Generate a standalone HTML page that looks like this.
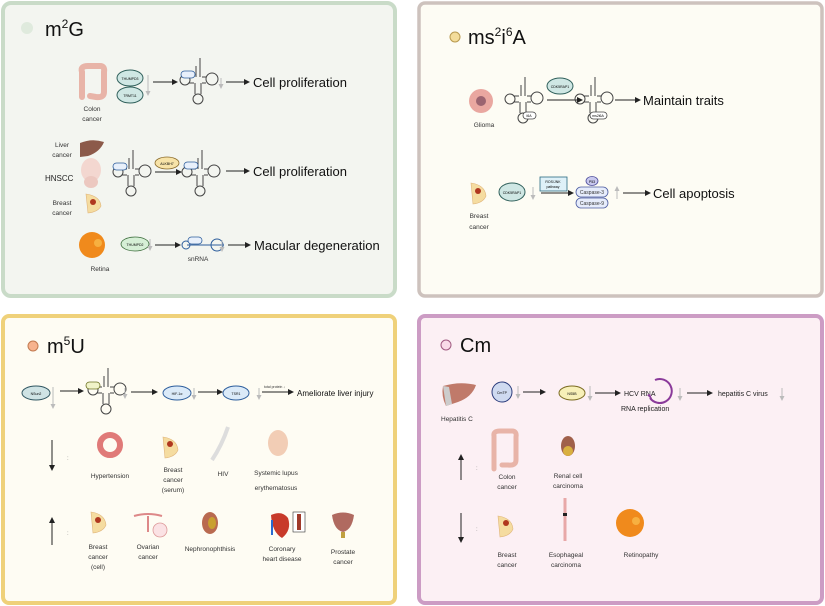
<!DOCTYPE html>
<html><head><meta charset="utf-8"><style>
html,body{margin:0;padding:0;background:#fff;}
svg{display:block;font-family:"Liberation Sans",sans-serif;}
</style></head><body>
<svg width="825" height="606" viewBox="0 0 825 606" xmlns="http://www.w3.org/2000/svg">
<defs>
<marker id="ah" markerWidth="6" markerHeight="6" refX="5" refY="3" orient="auto"><path d="M0,0 L6,3 L0,6 z" fill="#222"/></marker>
<marker id="ahg" markerWidth="5" markerHeight="5" refX="4" refY="2.5" orient="auto"><path d="M0,0 L5,2.5 L0,5 z" fill="#bbb"/></marker>
<g id="trna" fill="none" stroke="#444" stroke-width="1">
<line x1="2" y1="-22" x2="2" y2="-3"/><line x1="-2" y1="-14" x2="-2" y2="-3"/>
<path d="M-4,-3 L-9,-3 M-4,3 L-9,3"/>
<circle cx="-13" cy="0" r="5"/><circle cx="14" cy="-1" r="6"/>
<path d="M4,-3 L8,-3 M4,3 L8,3"/>
<path d="M-3,3 L-3,14 M3,3 L3,14"/><circle cx="0" cy="19" r="5"/>
</g>
</defs>

<!-- panels -->
<rect x="3" y="3" width="392" height="293" rx="8" fill="#f3f5f0" stroke="#c9dbc8" stroke-width="4"/>
<rect x="419" y="3" width="403" height="293" rx="6" fill="#fdfcf4" stroke="#cdc2bd" stroke-width="3.5"/>
<rect x="3" y="316" width="392" height="287" rx="6" fill="#fefcf3" stroke="#efd17a" stroke-width="4"/>
<rect x="419" y="316" width="403" height="287" rx="6" fill="#fcf0f4" stroke="#cc9cc4" stroke-width="4"/>

<!-- ===== Panel 1 m2G ===== -->
<circle cx="27" cy="28" r="6" fill="#dfeadd"/>
<text x="45" y="36" font-size="20" fill="#111">m<tspan font-size="12" dy="-8">2</tspan><tspan dy="8">G</tspan></text>
<!-- colon -->
<path d="M82,97 L82,72 Q80,66 88,66 L100,66 Q105,66 104,72 L104,92 Q104,98 96,97 L90,96" fill="none" stroke="#e8b4a8" stroke-width="6" stroke-linecap="round"/>
<text x="92" y="111" font-size="6.5" text-anchor="middle" fill="#333">Colon</text>
<text x="92" y="121" font-size="6.5" text-anchor="middle" fill="#333">cancer</text>
<ellipse cx="130" cy="78" rx="13" ry="8" fill="#cfe7e4" stroke="#2f5f5a" stroke-width="1"/>
<text x="130" y="80" font-size="3.5" text-anchor="middle">THUMPD3</text>
<ellipse cx="130" cy="95" rx="13" ry="8" fill="#cfe7e4" stroke="#2f5f5a" stroke-width="1"/>
<text x="130" y="97" font-size="3.5" text-anchor="middle">TRMT11</text>
<line x1="148" y1="75" x2="148" y2="95" stroke="#bbb" marker-end="url(#ahg)"/>
<line x1="153" y1="82" x2="177" y2="82" stroke="#222" marker-end="url(#ah)"/>
<use href="#trna" x="198" y="80"/>
<rect x="181" y="71" width="14" height="7" rx="3.5" fill="#e8f0fb" stroke="#2c5d9c" stroke-width="0.8"/>
<line x1="221" y1="78" x2="221" y2="88" stroke="#bbb" marker-end="url(#ahg)"/>
<line x1="226" y1="82" x2="249" y2="82" stroke="#222" marker-end="url(#ah)"/>
<text x="253" y="87" font-size="13" fill="#111">Cell proliferation</text>
<!-- row2 -->
<text x="62" y="147" font-size="6.5" text-anchor="middle" fill="#333">Liver</text>
<text x="62" y="157" font-size="6.5" text-anchor="middle" fill="#333">cancer</text>
<path d="M80,143 Q92,138 104,142 Q100,152 88,156 L80,157 z" fill="#8c5a4a"/>
<text x="45" y="181" font-size="8" fill="#222">HNSCC</text>
<ellipse cx="91" cy="170" rx="10" ry="12" fill="#f3d7d0"/>
<ellipse cx="91" cy="182" rx="7" ry="6" fill="#ecc8c0"/>
<text x="62" y="205" font-size="6.5" text-anchor="middle" fill="#333">Breast</text>
<text x="62" y="215" font-size="6.5" text-anchor="middle" fill="#333">cancer</text>
<path d="M86,194 Q100,196 101,206 Q98,212 88,213 z" fill="#f5dca0" stroke="#e0b57a" stroke-width="0.6"/>
<circle cx="93" cy="202" r="3" fill="#b0371f"/>
<use href="#trna" x="131" y="172"/>
<rect x="113" y="163" width="14" height="7" rx="3.5" fill="#e8f0fb" stroke="#2c5d9c" stroke-width="0.8"/>
<ellipse cx="167" cy="163" rx="12" ry="6" fill="#f7e3a8" stroke="#8a6a2a" stroke-width="0.8"/>
<text x="167" y="165" font-size="3.5" text-anchor="middle">ALKBH7</text>
<line x1="155" y1="172" x2="181" y2="172" stroke="#222" marker-end="url(#ah)"/>
<use href="#trna" x="200" y="172"/>
<rect x="184" y="162" width="14" height="7" rx="3.5" fill="#e8f0fb" stroke="#2c5d9c" stroke-width="0.8"/>
<line x1="226" y1="171" x2="249" y2="171" stroke="#222" marker-end="url(#ah)"/>
<text x="253" y="176" font-size="13" fill="#111">Cell proliferation</text>
<!-- row3 -->
<circle cx="92" cy="245" r="13" fill="#f08a1c"/>
<circle cx="98" cy="243" r="4" fill="#f7b040"/>
<text x="100" y="271" font-size="6.5" text-anchor="middle" fill="#333">Retina</text>
<ellipse cx="135" cy="244" rx="14" ry="7" fill="#d6efd6" stroke="#3a6b3a" stroke-width="0.8"/>
<text x="135" y="246" font-size="3.5" text-anchor="middle">THUMPD2</text>
<line x1="150" y1="239" x2="150" y2="250" stroke="#bbb" marker-end="url(#ahg)"/>
<line x1="155" y1="245" x2="180" y2="245" stroke="#222" marker-end="url(#ah)"/>
<path d="M187,245 L224,245" stroke="#2c5d9c" stroke-width="1"/>
<circle cx="186" cy="245" r="4" fill="none" stroke="#2c5d9c"/>
<circle cx="217" cy="245" r="6" fill="none" stroke="#2c5d9c"/>
<rect x="188" y="237" width="14" height="7" rx="3.5" fill="#e8f0fb" stroke="#2c5d9c" stroke-width="0.8"/>
<text x="198" y="261" font-size="6.5" text-anchor="middle" fill="#333">snRNA</text>
<line x1="222" y1="240" x2="222" y2="251" stroke="#bbb" marker-end="url(#ahg)"/>
<line x1="228" y1="245" x2="250" y2="245" stroke="#222" marker-end="url(#ah)"/>
<text x="254" y="250" font-size="13" fill="#111">Macular degeneration</text>

<!-- ===== Panel 2 ms2i6A ===== -->
<circle cx="455" cy="37" r="5" fill="#f3dc9a" stroke="#b89a50" stroke-width="1"/>
<text x="468" y="44" font-size="20" fill="#111">ms<tspan font-size="12" dy="-8">2</tspan><tspan dy="8">i</tspan><tspan font-size="12" dy="-8">6</tspan><tspan dy="8">A</tspan></text>
<circle cx="481" cy="101" r="12" fill="#e9a7a0"/>
<circle cx="481" cy="101" r="5" fill="#9b6470"/>
<text x="484" y="127" font-size="6.5" text-anchor="middle" fill="#333">Glioma</text>
<use href="#trna" x="523" y="99"/>
<rect x="523" y="112" width="13" height="7" rx="3.5" fill="#fff" stroke="#444" stroke-width="0.8"/>
<text x="529" y="117" font-size="3.5" text-anchor="middle">i6A</text>
<ellipse cx="560" cy="86" rx="13" ry="8" fill="#cfe7e4" stroke="#2f5f5a" stroke-width="1"/>
<text x="560" y="88" font-size="3.5" text-anchor="middle">CDK5RAP1</text>
<line x1="547" y1="100" x2="582" y2="100" stroke="#222" marker-end="url(#ah)"/>
<use href="#trna" x="593" y="99"/>
<rect x="590" y="112" width="17" height="7" rx="3.5" fill="#fff" stroke="#444" stroke-width="0.8"/>
<text x="598" y="117" font-size="3.5" text-anchor="middle">ms2i6A</text>
<line x1="615" y1="100" x2="640" y2="100" stroke="#222" marker-end="url(#ah)"/>
<text x="643" y="105" font-size="13" fill="#111">Maintain traits</text>
<path d="M471,183 Q485,185 486,196 Q483,203 473,204 z" fill="#f5dca0" stroke="#e0b57a" stroke-width="0.6"/>
<circle cx="478" cy="191" r="3" fill="#b0371f"/>
<text x="479" y="218" font-size="6.5" text-anchor="middle" fill="#333">Breast</text>
<text x="479" y="229" font-size="6.5" text-anchor="middle" fill="#333">cancer</text>
<ellipse cx="512" cy="192" rx="13" ry="9" fill="#cfe7e4" stroke="#2f5f5a" stroke-width="1"/>
<text x="512" y="194" font-size="3.5" text-anchor="middle">CDK5RAP1</text>
<line x1="533" y1="187" x2="533" y2="199" stroke="#bbb" marker-end="url(#ahg)"/>
<rect x="540" y="177" width="27" height="14" fill="#dff1f8" stroke="#2a6a80" stroke-width="0.8"/>
<text x="553" y="183" font-size="3.5" text-anchor="middle">ROS/JNK</text>
<text x="553" y="188" font-size="3.5" text-anchor="middle">pathway</text>
<line x1="541" y1="193" x2="573" y2="193" stroke="#222" marker-end="url(#ah)"/>
<ellipse cx="592" cy="181" rx="6" ry="4.5" fill="#c8c8ee" stroke="#4a4a9a" stroke-width="0.8"/>
<text x="592" y="183" font-size="3.5" text-anchor="middle">P53</text>
<rect x="576" y="187" width="32" height="10" rx="5" fill="#e6ecfb" stroke="#4a5aa0" stroke-width="0.8"/>
<text x="592" y="194" font-size="5" text-anchor="middle" fill="#333">Caspase-3</text>
<rect x="576" y="198" width="32" height="10" rx="5" fill="#e6ecfb" stroke="#4a5aa0" stroke-width="0.8"/>
<text x="592" y="205" font-size="5" text-anchor="middle" fill="#333">Caspase-9</text>
<line x1="617" y1="199" x2="617" y2="187" stroke="#bbb" marker-end="url(#ahg)"/>
<line x1="623" y1="193" x2="650" y2="193" stroke="#222" marker-end="url(#ah)"/>
<text x="653" y="198" font-size="13" fill="#111">Cell apoptosis</text>

<!-- ===== Panel 3 m5U ===== -->
<circle cx="33" cy="346" r="5" fill="#f7b38e" stroke="#c27a50" stroke-width="1"/>
<text x="47" y="353" font-size="20" fill="#111">m<tspan font-size="12" dy="-8">5</tspan><tspan dy="8">U</tspan></text>
<ellipse cx="36" cy="393" rx="14" ry="7" fill="#cfe3e4" stroke="#2f5560" stroke-width="1"/>
<text x="36" y="395" font-size="3.5" text-anchor="middle">NSun2</text>
<line x1="53" y1="387" x2="53" y2="408" stroke="#bbb" marker-end="url(#ahg)"/>
<line x1="60" y1="391" x2="83" y2="391" stroke="#222" marker-end="url(#ah)"/>
<use href="#trna" x="106" y="390"/>
<rect x="86" y="382" width="14" height="7" rx="3.5" fill="#f0f3c8" stroke="#6a7020" stroke-width="0.8"/>
<line x1="125" y1="388" x2="125" y2="398" stroke="#bbb" marker-end="url(#ahg)"/>
<line x1="131" y1="392" x2="157" y2="392" stroke="#222" marker-end="url(#ah)"/>
<ellipse cx="177" cy="393" rx="14" ry="7" fill="#dbeaf8" stroke="#2c5d9c" stroke-width="1"/>
<text x="177" y="395" font-size="3.5" text-anchor="middle">HIF-1α</text>
<line x1="194" y1="388" x2="194" y2="399" stroke="#bbb" marker-end="url(#ahg)"/>
<line x1="198" y1="392" x2="222" y2="392" stroke="#222" marker-end="url(#ah)"/>
<ellipse cx="236" cy="393" rx="13" ry="7" fill="#dbeaf8" stroke="#2c5d9c" stroke-width="1"/>
<text x="236" y="395" font-size="3.5" text-anchor="middle">TSR1</text>
<line x1="259" y1="388" x2="259" y2="399" stroke="#bbb" marker-end="url(#ahg)"/>
<text x="264" y="388" font-size="3.5" fill="#333">total protein ↓</text>
<line x1="262" y1="392" x2="293" y2="392" stroke="#222" marker-end="url(#ah)"/>
<text x="297" y="396" font-size="8" fill="#111">Ameliorate liver injury</text>
<line x1="52" y1="440" x2="52" y2="470" stroke="#222" marker-end="url(#ah)"/>
<text x="67" y="460" font-size="6" fill="#888">:</text>
<circle cx="110" cy="445" r="10" fill="none" stroke="#e07a78" stroke-width="6"/>
<text x="110" y="478" font-size="6.5" text-anchor="middle" fill="#333">Hypertension</text>
<path d="M163,437 Q177,439 178,450 Q175,457 165,458 z" fill="#f5dca0" stroke="#e0b57a" stroke-width="0.6"/>
<circle cx="170" cy="444" r="3" fill="#b0371f"/>
<text x="173" y="472" font-size="6.5" text-anchor="middle" fill="#333">Breast</text>
<text x="173" y="482" font-size="6.5" text-anchor="middle" fill="#333">cancer</text>
<text x="173" y="492" font-size="6.5" text-anchor="middle" fill="#333">(serum)</text>
<path d="M228,427 Q222,445 212,460" fill="none" stroke="#ddd" stroke-width="4"/>
<text x="223" y="476" font-size="6.5" text-anchor="middle" fill="#333">HIV</text>
<ellipse cx="278" cy="443" rx="10" ry="13" fill="#f2cdb5"/>
<text x="276" y="475" font-size="6.5" text-anchor="middle" fill="#333">Systemic lupus</text>
<text x="276" y="490" font-size="6.5" text-anchor="middle" fill="#333">erythematosus</text>
<line x1="52" y1="545" x2="52" y2="518" stroke="#222" marker-end="url(#ah)"/>
<text x="67" y="535" font-size="6" fill="#888">:</text>
<path d="M91,512 Q105,514 106,525 Q103,532 93,533 z" fill="#f5dca0" stroke="#e0b57a" stroke-width="0.6"/>
<circle cx="98" cy="520" r="3" fill="#b0371f"/>
<text x="98" y="549" font-size="6.5" text-anchor="middle" fill="#333">Breast</text>
<text x="98" y="559" font-size="6.5" text-anchor="middle" fill="#333">cancer</text>
<text x="98" y="569" font-size="6.5" text-anchor="middle" fill="#333">(cell)</text>
<path d="M134,516 Q148,512 162,516 M148,516 L148,532" fill="none" stroke="#d88" stroke-width="2"/>
<circle cx="160" cy="530" r="7" fill="#fbe2e4" stroke="#d99" stroke-width="0.8"/>
<text x="148" y="549" font-size="6.5" text-anchor="middle" fill="#333">Ovarian</text>
<text x="148" y="559" font-size="6.5" text-anchor="middle" fill="#333">cancer</text>
<ellipse cx="210" cy="523" rx="8" ry="11" fill="#b96a50"/>
<ellipse cx="212" cy="523" rx="4" ry="6" fill="#c9a030"/>
<text x="210" y="551" font-size="6.5" text-anchor="middle" fill="#333">Nephronophthisis</text>
<path d="M271,515 Q282,510 288,518 Q292,530 282,538 Q272,532 271,515 z" fill="#c83a2a"/>
<path d="M272,520 L272,535" stroke="#2a6ad0" stroke-width="2"/>
<rect x="293" y="512" width="12" height="20" fill="#fff" stroke="#333" stroke-width="0.6"/>
<rect x="297" y="514" width="4" height="16" fill="#a03a2a"/>
<text x="282" y="551" font-size="6.5" text-anchor="middle" fill="#333">Coronary</text>
<text x="282" y="561" font-size="6.5" text-anchor="middle" fill="#333">heart disease</text>
<path d="M332,515 Q343,510 354,515 Q352,530 343,532 Q334,530 332,515 z" fill="#b06a60"/>
<rect x="341" y="532" width="4" height="6" fill="#c0a040"/>
<text x="343" y="554" font-size="6.5" text-anchor="middle" fill="#333">Prostate</text>
<text x="343" y="564" font-size="6.5" text-anchor="middle" fill="#333">cancer</text>

<!-- ===== Panel 4 Cm ===== -->
<circle cx="446" cy="345" r="5" fill="#f9dbe8" stroke="#a05a80" stroke-width="1"/>
<text x="460" y="352" font-size="20" fill="#111">Cm</text>
<path d="M443,386 Q460,381 476,385 Q472,397 458,402 L446,406 Q441,396 443,386 z" fill="#c07a6a"/>
<path d="M443,386 L446,406 L452,404 L449,387 z" fill="#ccc"/>
<text x="441" y="421" font-size="6.5" fill="#333">Hepatitis C</text>
<circle cx="502" cy="392" r="10" fill="#cfdaf0" stroke="#2c3d7c" stroke-width="1"/>
<text x="502" y="394" font-size="3.5" text-anchor="middle">CmTP</text>
<line x1="518" y1="386" x2="518" y2="398" stroke="#bbb" marker-end="url(#ahg)"/>
<line x1="523" y1="392" x2="545" y2="392" stroke="#222" marker-end="url(#ah)"/>
<ellipse cx="572" cy="393" rx="13" ry="7" fill="#f7f0b8" stroke="#7a6a20" stroke-width="1"/>
<text x="572" y="395" font-size="3.5" text-anchor="middle">NS5B</text>
<line x1="590" y1="386" x2="590" y2="400" stroke="#bbb" marker-end="url(#ahg)"/>
<line x1="595" y1="393" x2="620" y2="393" stroke="#222" marker-end="url(#ah)"/>
<text x="624" y="396" font-size="7" fill="#222">HCV RNA</text>
<path d="M655,380 A12,12 0 1 1 650,398" fill="none" stroke="#8a3a9a" stroke-width="2"/>
<path d="M647,395 L653,401 L650,394 z" fill="#8a3a9a"/>
<text x="621" y="411" font-size="7" fill="#222">RNA replication</text>
<line x1="680" y1="388" x2="680" y2="400" stroke="#bbb" marker-end="url(#ahg)"/>
<line x1="687" y1="393" x2="712" y2="393" stroke="#222" marker-end="url(#ah)"/>
<text x="718" y="396" font-size="7" fill="#222">hepatitis C virus</text>
<line x1="782" y1="388" x2="782" y2="400" stroke="#bbb" marker-end="url(#ahg)"/>
<line x1="461" y1="480" x2="461" y2="455" stroke="#222" marker-end="url(#ah)"/>
<text x="476" y="470" font-size="6" fill="#888">:</text>
<path d="M494,469 L494,436 Q493,431 500,431 L512,431 Q517,431 516,437 L516,460 Q516,466 508,465 L502,465" fill="none" stroke="#e8b4a8" stroke-width="5" stroke-linecap="round"/>
<text x="507" y="479" font-size="6.5" text-anchor="middle" fill="#333">Colon</text>
<text x="507" y="489" font-size="6.5" text-anchor="middle" fill="#333">cancer</text>
<ellipse cx="568" cy="446" rx="7" ry="10" fill="#a0604a"/>
<circle cx="568" cy="451" r="5" fill="#d9b040"/>
<text x="568" y="478" font-size="6.5" text-anchor="middle" fill="#333">Renal cell</text>
<text x="568" y="488" font-size="6.5" text-anchor="middle" fill="#333">carcinoma</text>
<line x1="461" y1="513" x2="461" y2="542" stroke="#222" marker-end="url(#ah)"/>
<text x="476" y="531" font-size="6" fill="#888">:</text>
<path d="M498,516 Q512,518 513,529 Q510,536 500,537 z" fill="#f5dca0" stroke="#e0b57a" stroke-width="0.6"/>
<circle cx="506" cy="523" r="3" fill="#b0371f"/>
<text x="507" y="557" font-size="6.5" text-anchor="middle" fill="#333">Breast</text>
<text x="507" y="567" font-size="6.5" text-anchor="middle" fill="#333">cancer</text>
<line x1="565" y1="498" x2="565" y2="541" stroke="#e8a8a8" stroke-width="3"/>
<rect x="563" y="513" width="4" height="3" fill="#222"/>
<text x="566" y="557" font-size="6.5" text-anchor="middle" fill="#333">Esophageal</text>
<text x="566" y="567" font-size="6.5" text-anchor="middle" fill="#333">carcinoma</text>
<circle cx="630" cy="523" r="14" fill="#f08a1c"/>
<circle cx="636" cy="521" r="4" fill="#f7b040"/>
<text x="641" y="557" font-size="6.5" text-anchor="middle" fill="#333">Retinopathy</text>
</svg>
</body></html>
